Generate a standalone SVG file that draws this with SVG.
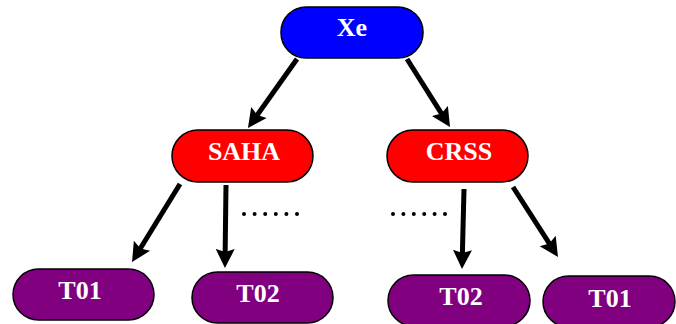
<svg xmlns="http://www.w3.org/2000/svg" width="676" height="324" viewBox="0 0 676 324">
  <style>
    .box { stroke: #000; stroke-width: 1.5; }
    .root { fill: #0000ff; }
    .mid { fill: #ff0000; }
    .leaf { fill: #800080; }
    .label { font-family: "Liberation Serif", "Times New Roman", serif; font-weight: bold; font-size: 26px; fill: #fff; text-anchor: middle; }
    .edge { stroke: #000; stroke-width: 5; fill: none; marker-end: url(#head); }
    .dots { fill: #000; }
  </style>
  <defs>
    <!-- head tip sits 12 units past the line end so the butt cap stays hidden -->
    <marker id="head" markerUnits="userSpaceOnUse" markerWidth="22" markerHeight="22" viewBox="0 0 22 22" refX="7" refY="11" orient="auto">
      <path d="M0,1.5 L19,11 L0,20.5 L3,11 Z" fill="#000"/>
    </marker>
  </defs>

  <g id="connectors">
    <line class="edge" x1="297" y1="59" x2="254.9" y2="118.2"/>
    <line class="edge" x1="407" y1="59" x2="443.6" y2="116.9"/>
    <line class="edge" x1="180" y1="184" x2="138.3" y2="251.8"/>
    <line class="edge" x1="226" y1="185" x2="225.1" y2="256"/>
    <line class="edge" x1="464" y1="189" x2="462.3" y2="257"/>
    <line class="edge" x1="513" y1="187" x2="551.5" y2="246.9"/>
  </g>

  <g id="ellipsis-left" class="dots">
    <circle cx="244" cy="214" r="2"/>
    <circle cx="254.6" cy="214" r="2"/>
    <circle cx="265.2" cy="214" r="2"/>
    <circle cx="275.8" cy="214" r="2"/>
    <circle cx="286.4" cy="214" r="2"/>
    <circle cx="297" cy="214" r="2"/>
  </g>
  <g id="ellipsis-right" class="dots">
    <circle cx="393" cy="214" r="2"/>
    <circle cx="403.4" cy="214" r="2"/>
    <circle cx="413.8" cy="214" r="2"/>
    <circle cx="424.2" cy="214" r="2"/>
    <circle cx="434.6" cy="214" r="2"/>
    <circle cx="445" cy="214" r="2"/>
  </g>

  <g id="node-xe">
    <rect class="box root" x="281" y="7" width="142" height="51" rx="25" ry="25"/>
    <text class="label" x="352" y="36">Xe</text>
  </g>

  <g id="node-saha">
    <rect class="box mid" x="172" y="130" width="141" height="52" rx="26" ry="26"/>
    <text class="label" x="244" y="160">SAHA</text>
  </g>

  <g id="node-crss">
    <rect class="box mid" x="387" y="130" width="141" height="52" rx="26" ry="26"/>
    <text class="label" x="459" y="160">CRSS</text>
  </g>

  <g id="node-saha-t01">
    <rect class="box leaf" x="13" y="269" width="141" height="51" rx="25.5" ry="25.5"/>
    <text class="label" x="80" y="299">T01</text>
  </g>

  <g id="node-saha-t02">
    <rect class="box leaf" x="192" y="272" width="141" height="51" rx="25.5" ry="25.5"/>
    <text class="label" x="258" y="302">T02</text>
  </g>

  <g id="node-crss-t02">
    <rect class="box leaf" x="388" y="275" width="142" height="51" rx="25.5" ry="25.5"/>
    <text class="label" x="461" y="305">T02</text>
  </g>

  <g id="node-crss-t01">
    <rect class="box leaf" x="543" y="276" width="132" height="51" rx="25.5" ry="25.5"/>
    <text class="label" x="610" y="307">T01</text>
  </g>
</svg>
